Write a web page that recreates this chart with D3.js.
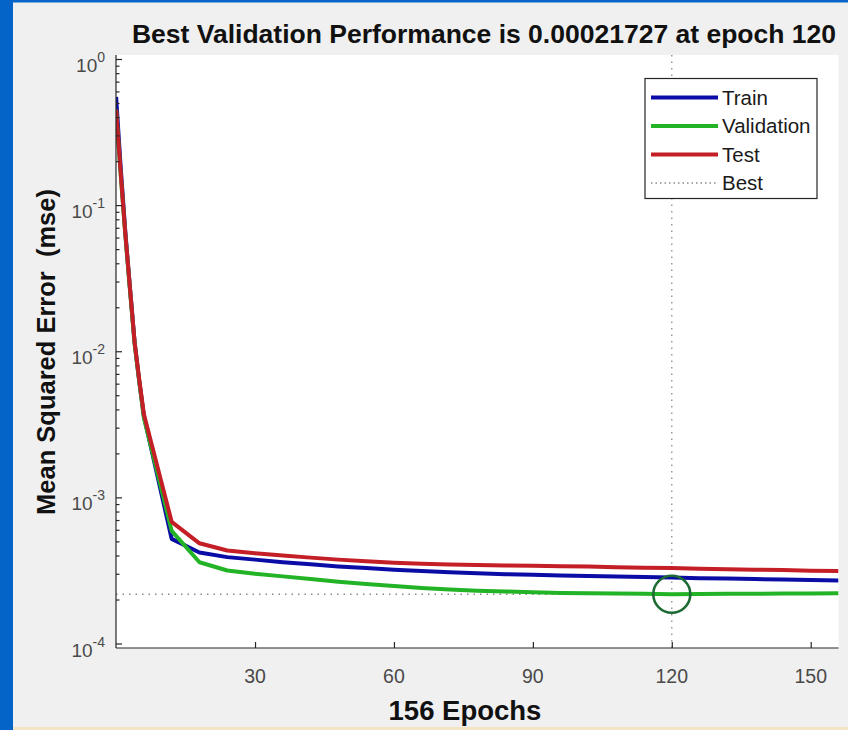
<!DOCTYPE html>
<html><head><meta charset="utf-8">
<script src="https://cdn.jsdelivr.net/npm/d3@7"></script>
<style>
html,body{margin:0;padding:0;background:#f0f0f0;}
svg{display:block;font-family:"Liberation Sans",Arial,sans-serif;}
</style></head>
<body>
<svg id="chart" width="848" height="730"></svg>
<script>
// ---- data ----
const epochs = [0,1,2,3,4,5,6,12,18,24,30,36,42,48,54,60,66,72,78,84,90,96,102,108,114,120,126,132,138,144,150,156];
const trainMSE = [0.55,0.18,0.065,0.027,0.0115,0.0062,0.0036,5.2e-4,4.2e-4,3.9e-4,3.75e-4,3.6e-4,3.48e-4,3.37e-4,3.28e-4,3.2e-4,3.13e-4,3.07e-4,3.02e-4,2.98e-4,2.95e-4,2.92e-4,2.9e-4,2.87e-4,2.85e-4,2.83e-4,2.8e-4,2.78e-4,2.76e-4,2.74e-4,2.72e-4,2.7e-4];
const validationMSE = [0.45,0.16,0.062,0.026,0.0112,0.0062,0.0035,5.9e-4,3.6e-4,3.16e-4,3.0e-4,2.88e-4,2.76e-4,2.65e-4,2.55e-4,2.47e-4,2.4e-4,2.34e-4,2.3e-4,2.27e-4,2.24e-4,2.22e-4,2.21e-4,2.2e-4,2.19e-4,2.1727e-4,2.18e-4,2.19e-4,2.19e-4,2.2e-4,2.2e-4,2.21e-4];
const testMSE = [0.45,0.165,0.063,0.027,0.0115,0.0064,0.0037,6.8e-4,4.85e-4,4.33e-4,4.15e-4,4.0e-4,3.87e-4,3.75e-4,3.65e-4,3.57e-4,3.51e-4,3.47e-4,3.44e-4,3.42e-4,3.4e-4,3.38e-4,3.36e-4,3.33e-4,3.3e-4,3.28e-4,3.25e-4,3.22e-4,3.2e-4,3.18e-4,3.15e-4,3.13e-4];
const bestEpoch = 120;
const bestValue = 0.00021727;
const xTickValues = [30,60,90,120,150];
const yMajorExps = [0,-1,-2,-3,-4];
const seriesNames = ["Train","Validation","Test","Best"];
const titleText = "Best Validation Performance is 0.00021727 at epoch 120";
const xLabelText = "156 Epochs";
const yLabelText = "Mean Squared Error  (mse)";

// ---- layout ----
const svg = d3.select("#chart");
const L = 116, R = 838.5, T = 55, B = 648;
const colors = {Train:"#0b0ba6", Validation:"#22b326", Test:"#c41e26"};

svg.append("rect").attr("x",0).attr("y",0).attr("width",848).attr("height",730).attr("fill","#f0f0f0");
svg.append("rect").attr("x",0).attr("y",0).attr("width",13).attr("height",730).attr("fill","#0564c8");
svg.append("rect").attr("x",0).attr("y",0).attr("width",848).attr("height",2.5).attr("fill","#0564c8");
svg.append("rect").attr("x",13).attr("y",727).attr("width",835).attr("height",3).attr("fill","#f3e4c6");

const x = d3.scaleLinear().domain([0,156]).range([L+0.1, R]);
const y = d3.scaleLog().domain([1e-4, 1]).range([643.5, 59]);

svg.append("rect").attr("x",L).attr("y",T).attr("width",R-L).attr("height",B-T).attr("fill","#ffffff");

svg.append("clipPath").attr("id","clip").append("rect")
  .attr("x",L).attr("y",T).attr("width",R-L).attr("height",B-T);

const plot = svg.append("g").attr("clip-path","url(#clip)");

plot.append("line").attr("x1",L).attr("x2",R).attr("y1",y(bestValue)).attr("y2",y(bestValue))
  .attr("stroke","#8a8a8a").attr("stroke-width",1.3).attr("stroke-dasharray","1.5,5");
plot.append("line").attr("x1",x(bestEpoch)).attr("x2",x(bestEpoch)).attr("y1",T).attr("y2",B)
  .attr("stroke","#8a8a8a").attr("stroke-width",1.3).attr("stroke-dasharray","1.5,5");

const line = d3.line().x((d,i)=>x(epochs[i])).y(d=>y(d));
[["Train",trainMSE],["Validation",validationMSE],["Test",testMSE]].forEach(([n,vals])=>{
  plot.append("path").datum(vals).attr("d",line).attr("fill","none")
    .attr("stroke",colors[n]).attr("stroke-width",4).attr("stroke-linejoin","round");
});

plot.append("circle").attr("cx",x(bestEpoch)).attr("cy",y(bestValue)).attr("r",18.5)
  .attr("fill","none").attr("stroke","#1d6b34").attr("stroke-width",2.6);

const axisColor = "#262626";
const xAxis = d3.axisBottom(x).tickValues(xTickValues).tickSize(-6).tickFormat("");
const gx = svg.append("g").attr("transform",`translate(0,${B})`).call(xAxis);
gx.select(".domain").attr("d",`M${L},0H${R}`).attr("stroke",axisColor).attr("stroke-width",1.2);
gx.selectAll(".tick line").attr("stroke",axisColor).attr("stroke-width",1.2);

xTickValues.forEach(v=>{
  svg.append("text").attr("x",x(v)).attr("y",683).attr("text-anchor","middle")
    .attr("font-size",19.5).attr("fill","#4a4a4a").text(v);
});

const yTicks = [];
for (let e=-4;e<=0;e++){ yTicks.push(Math.pow(10,e)); if(e<0) for(let k=2;k<=9;k++) yTicks.push(k*Math.pow(10,e)); }
const yAxis = d3.axisLeft(y).tickValues(yTicks).tickSize(-3).tickFormat("");
const gy = svg.append("g").attr("transform",`translate(${L},0)`).call(yAxis);
gy.select(".domain").attr("d",`M0,${T}V${B}`).attr("stroke",axisColor).attr("stroke-width",1.2);
gy.selectAll(".tick line").attr("stroke",axisColor).attr("stroke-width",1.2)
  .attr("x2",d=>{const l=Math.log10(d);return Math.abs(l-Math.round(l))<1e-9?6:3.5;});

yMajorExps.forEach(e=>{
  const ty = y(Math.pow(10,e));
  const t = svg.append("text").attr("x",105).attr("y",ty+13).attr("text-anchor","end")
    .attr("font-size",19).attr("fill","#4a4a4a");
  t.append("tspan").text("10");
  t.append("tspan").attr("dy",-10).attr("font-size",14).text(String(e));
});

svg.append("text").attr("x",484).attr("y",43).attr("text-anchor","middle")
  .attr("font-size",26.5).attr("font-weight","bold").attr("fill","#111").text(titleText);
svg.append("text").attr("x",465).attr("y",720).attr("text-anchor","middle")
  .attr("font-size",27.5).attr("font-weight","bold").attr("fill","#111").text(xLabelText);
svg.append("text").attr("transform","translate(55,352) rotate(-90)").attr("text-anchor","middle")
  .attr("font-size",25.5).attr("font-weight","bold").attr("fill","#111").attr("xml:space","preserve").text(yLabelText);

const lg = svg.append("g");
lg.append("rect").attr("x",645).attr("y",78.5).attr("width",172).attr("height",120)
  .attr("fill","#ffffff").attr("stroke","#262626").attr("stroke-width",1.2);
seriesNames.forEach((n,i)=>{
  const ly = 97.5 + i*28.5;
  const ln = lg.append("line").attr("x1",651).attr("x2",718).attr("y1",ly).attr("y2",ly);
  if(n==="Best") ln.attr("stroke","#8a8a8a").attr("stroke-width",1.3).attr("stroke-dasharray","1.5,3");
  else ln.attr("stroke",colors[n]).attr("stroke-width",4);
  lg.append("text").attr("x",722).attr("y",ly+7).attr("font-size",20.5).attr("fill","#1a1a1a").text(n);
});
</script>
</body></html>
